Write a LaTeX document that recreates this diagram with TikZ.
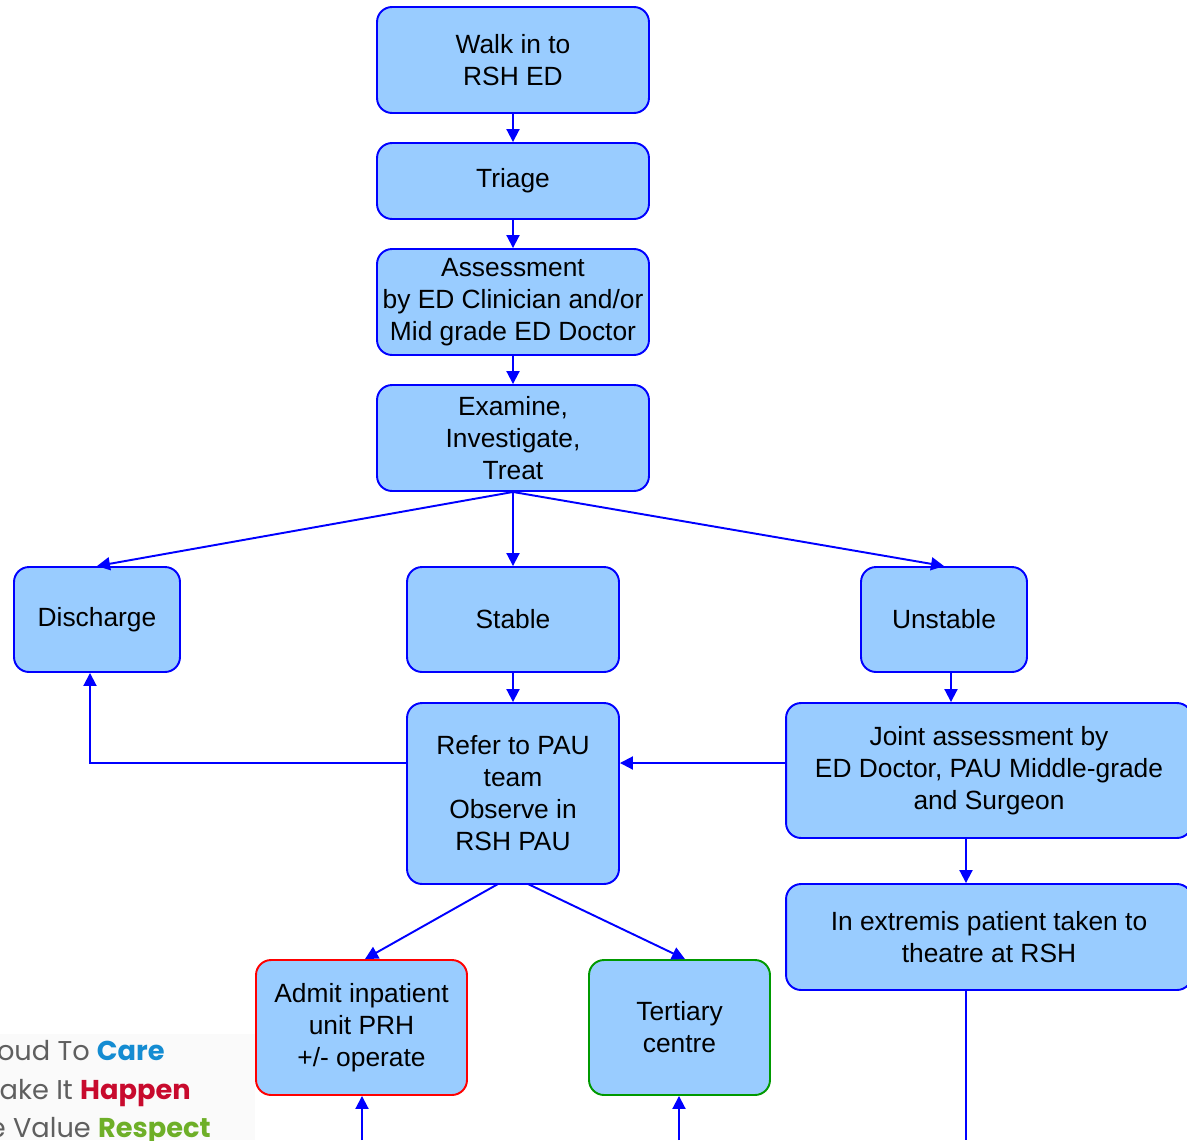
\documentclass[tikz,border=0pt]{standalone}
\usepackage{fontspec}
\setmainfont{Liberation Sans}
\newfontfamily\logofont{Poppins}
\usetikzlibrary{arrows.meta,positioning}
\definecolor{boxblue}{RGB}{153,204,255}
\definecolor{careblue}{RGB}{20,140,210}
\definecolor{happenred}{RGB}{200,10,45}
\definecolor{respectgreen}{RGB}{110,175,40}
\definecolor{logogray}{RGB}{95,95,95}

\begin{document}
\begin{tikzpicture}[x=0.02cm,y=-0.02cm,font=\fontsize{15}{18.2}\selectfont]
\tikzstyle{box}=[draw=blue,fill=boxblue,line width=1.1pt,rounded corners=0.3cm,align=center,inner sep=0]
\tikzstyle{arr}=[draw=blue,line width=1.1pt,-{Triangle[length=0.26cm,width=0.26cm]}]
\tikzstyle{line}=[draw=blue,line width=1.1pt]
\tikzstyle{logo}=[anchor=base east,inner sep=0,font=\logofont\fontsize{15.5}{18}\selectfont,text=logogray]
\useasboundingbox (0,0) rectangle (1187,1140);
\clip (0,0) rectangle (1187,1140);
% logo
\fill[gray!4] (0,1034) rectangle (255,1140);
\node(care)[logo] at (165,1060){Proud To \textcolor{careblue}{\bfseries Care}};
\node(happen)[logo] at (191,1099){Make It \textcolor{happenred}{\bfseries Happen}};
\node(respect)[logo] at (211,1137){We Value \textcolor{respectgreen}{\bfseries Respect}};
% boxes
\node(walk)[box,minimum width=5.44cm,minimum height=2.12cm] at (513,60){Walk in to\\RSH ED};
\node(triage)[box,minimum width=5.44cm,minimum height=1.52cm] at (513,181){Triage};
\node(assess)[box,minimum width=5.44cm,minimum height=2.12cm] at (513,302){Assessment\\by ED Clinician and/or\\Mid grade ED Doctor};
\node(examine)[box,minimum width=5.44cm,minimum height=2.12cm] at (513,438){Examine,\\Investigate,\\Treat};
\node(discharge)[box,minimum width=3.32cm,minimum height=2.1cm] at (97,619.5){Discharge};
\node(stable)[box,minimum width=4.24cm,minimum height=2.1cm] at (513,619.5){Stable};
\node(unstable)[box,minimum width=3.32cm,minimum height=2.1cm] at (944,619.5){Unstable};
\node(refer)[box,minimum width=4.24cm,minimum height=3.62cm] at (513,793.5){Refer to PAU\\team\\Observe in\\RSH PAU};
\node(joint)[box,minimum width=8.12cm,minimum height=2.7cm] at (989,770.5){Joint assessment by\\ED Doctor, PAU Middle-grade\\and Surgeon};
\node(extremis)[box,minimum width=8.12cm,minimum height=2.12cm] at (989,937){In extremis patient taken to\\theatre at RSH};
\node(admit)[box,draw=red,minimum width=4.22cm,minimum height=2.7cm] at (361.5,1027.5){Admit inpatient\\unit PRH\\+/- operate};
\node(tertiary)[box,draw=green!60!black,minimum width=3.62cm,minimum height=2.7cm] at (679.5,1027.5){Tertiary\\centre};
% helper points
\coordinate(h) at (90,763);
\coordinate(xu) at (951,0);
\coordinate(xj) at (966,1140);
\coordinate(r1) at (498,884);
\coordinate(r2) at (528,884);
\coordinate(a1) at (362,1140);
\coordinate(t1) at (679,1140);
% connectors
\draw[arr] (walk) -- (triage);
\draw[arr] (triage) -- (assess);
\draw[arr] (assess) -- (examine);
\draw[arr] (examine.south) -- (discharge.north);
\draw[arr] (examine.south) -- (stable.north);
\draw[arr] (examine.south) -- (unstable.north);
\draw[arr] (stable) -- (refer);
\draw[arr] (unstable.south -| xu) -- (joint.north -| xu);
\draw[arr] (joint.west |- h) -- (refer.east |- h);
\draw[arr] (refer.west |- h) -- (h) -- (discharge.south -| h);
\draw[arr] (joint.south -| xj) -- (extremis.north -| xj);
\draw[line] (extremis.south -| xj) -- (xj);
\draw[arr] (r1) -- ([xshift=0.07cm]admit.north);
\draw[arr] (r2) -- ([xshift=0.11cm]tertiary.north);
\draw[arr] (a1) -- (admit.south -| a1);
\draw[arr] (t1) -- (tertiary.south -| t1);
\end{tikzpicture}
\end{document}
